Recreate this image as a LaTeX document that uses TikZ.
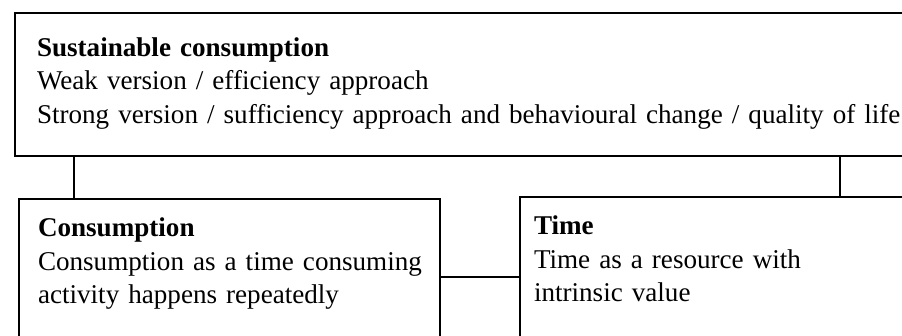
\documentclass[tikz,border=0pt]{standalone}
\usepackage{fontspec}
\setmainfont{Liberation Serif}
\hyphenpenalty=10000
\begin{document}
\begin{tikzpicture}[x=1pt, y=-1pt,
	box/.style={draw, line width=2pt, anchor=north west, align=left, inner ysep=20pt, text height=18pt, font=\fontsize{27.1}{33.5}\selectfont},
	link/.style={line width=1.6pt}]
	%\draw[help lines] (0,0) grid (902,336);
	\useasboundingbox (0,0) rectangle (902,336);
	\clip (0,0) rectangle (902,336);
	
	\node [box, inner xsep=22pt, inner ysep=24pt, text width=880pt, text height=19.5pt, text depth=75.5pt] (top) at (14,12)
		{\textbf{Sustainable consumption}\\
		Weak version / efficiency approach\\
		Strong version / sufficiency approach and behavioural change / quality of life};
	\node [box, inner xsep=19pt, text width=383pt, text depth=98pt] (cons) at (18,198)
		{\textbf{Consumption}\\
		\mbox{Consumption as a time consuming}\\
		activity happens repeatedly};
	\node [box, inner xsep=14pt, text width=420pt, text depth=102pt] (time) at (519,196)
		{\textbf{Time}\\
		Time as a resource with\\
		intrinsic value};
	
	\coordinate (lft) at (74,0);		% left branch
	\coordinate (rgt) at (840,0);		% right branch
	\draw [link] (top.south -| lft) -- (cons.north -| lft);
	\draw [link] (top.south -| rgt) -- (time.north -| rgt);
	\draw [link] (cons.east) -- (time.west);	% cross link
\end{tikzpicture}
\end{document}
